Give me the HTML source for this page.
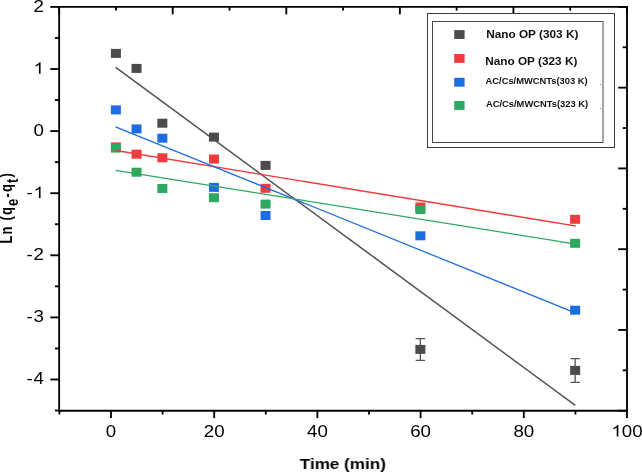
<!DOCTYPE html><html><head><meta charset="utf-8"><style>html,body{margin:0;padding:0;background:#fff;}svg{display:block;will-change:transform;}text{font-family:"Liberation Sans",sans-serif;}</style></head><body>
<svg width="642" height="472" viewBox="0 0 642 472">
<defs><filter id="bl" x="0" y="0" width="100%" height="100%"><feGaussianBlur stdDeviation="0.35"/></filter></defs>
<rect x="0" y="0" width="642" height="472" fill="#fff"/>
<g filter="url(#bl)">
<path d="M420.35 338.6 V360.4 M415.65 338.6 H425.05 M415.65 360.4 H425.05" stroke="#555" stroke-width="1.3" fill="none"/>
<path d="M575.15 358.6 V382.3 M570.45 358.6 H579.85 M570.45 382.3 H579.85" stroke="#555" stroke-width="1.3" fill="none"/>
<rect x="110.91" y="48.90" width="10" height="9" fill="#4b4b4b"/>
<rect x="131.55" y="63.90" width="10" height="9" fill="#4b4b4b"/>
<rect x="157.35" y="118.70" width="10" height="9" fill="#4b4b4b"/>
<rect x="208.95" y="132.60" width="10" height="9" fill="#4b4b4b"/>
<rect x="260.55" y="160.90" width="10" height="9" fill="#4b4b4b"/>
<rect x="415.35" y="344.90" width="10" height="9" fill="#4b4b4b"/>
<rect x="570.15" y="365.90" width="10" height="9" fill="#4b4b4b"/>
<rect x="110.91" y="142.40" width="10" height="9" fill="#ee3b3e"/>
<rect x="131.55" y="149.70" width="10" height="9" fill="#ee3b3e"/>
<rect x="157.35" y="153.30" width="10" height="9" fill="#ee3b3e"/>
<rect x="208.95" y="154.50" width="10" height="9" fill="#ee3b3e"/>
<rect x="260.55" y="183.80" width="10" height="9" fill="#ee3b3e"/>
<rect x="415.35" y="202.50" width="10" height="9" fill="#ee3b3e"/>
<rect x="570.15" y="214.80" width="10" height="9" fill="#ee3b3e"/>
<rect x="110.91" y="105.40" width="10" height="9" fill="#1f6ee0"/>
<rect x="131.55" y="124.40" width="10" height="9" fill="#1f6ee0"/>
<rect x="157.35" y="133.70" width="10" height="9" fill="#1f6ee0"/>
<rect x="208.95" y="182.90" width="10" height="9" fill="#1f6ee0"/>
<rect x="260.55" y="211.00" width="10" height="9" fill="#1f6ee0"/>
<rect x="415.35" y="231.30" width="10" height="9" fill="#1f6ee0"/>
<rect x="570.15" y="305.70" width="10" height="9" fill="#1f6ee0"/>
<rect x="110.91" y="143.60" width="10" height="9" fill="#2da85e"/>
<rect x="131.55" y="167.70" width="10" height="9" fill="#2da85e"/>
<rect x="157.35" y="184.00" width="10" height="9" fill="#2da85e"/>
<rect x="208.95" y="193.20" width="10" height="9" fill="#2da85e"/>
<rect x="260.55" y="199.60" width="10" height="9" fill="#2da85e"/>
<rect x="415.35" y="205.00" width="10" height="9" fill="#2da85e"/>
<rect x="570.15" y="238.80" width="10" height="9" fill="#2da85e"/>
<line x1="115.7" y1="67.3" x2="575.3" y2="405.4" stroke="#505050" stroke-width="1.5"/>
<line x1="116.0" y1="150.5" x2="575.6" y2="226.0" stroke="#ee3b3e" stroke-width="1.3"/>
<line x1="115.5" y1="126.8" x2="575.2" y2="312.8" stroke="#1f6ee0" stroke-width="1.3"/>
<line x1="115.5" y1="170.3" x2="575.0" y2="244.0" stroke="#2da85e" stroke-width="1.3"/>
<g stroke="#000" stroke-width="1.85" fill="none">
<path d="M59.15 6.9 V410.7 H627.0 V6.9 Z"/>
<path d="M59.15 6.90 H50.349999999999994"/>
<path d="M59.15 37.95 H54.949999999999996"/>
<path d="M59.15 69.00 H50.349999999999994"/>
<path d="M59.15 100.05 H54.949999999999996"/>
<path d="M59.15 131.10 H50.349999999999994"/>
<path d="M59.15 162.15 H54.949999999999996"/>
<path d="M59.15 193.20 H50.349999999999994"/>
<path d="M59.15 224.25 H54.949999999999996"/>
<path d="M59.15 255.30 H50.349999999999994"/>
<path d="M59.15 286.35 H54.949999999999996"/>
<path d="M59.15 317.40 H50.349999999999994"/>
<path d="M59.15 348.45 H54.949999999999996"/>
<path d="M59.15 379.50 H50.349999999999994"/>
<path d="M59.15 410.55 H54.949999999999996"/>
<path d="M59.40 410.7 V414.5"/>
<path d="M111.00 410.7 V418.09999999999997"/>
<path d="M162.60 410.7 V414.5"/>
<path d="M214.20 410.7 V418.09999999999997"/>
<path d="M265.80 410.7 V414.5"/>
<path d="M317.40 410.7 V418.09999999999997"/>
<path d="M369.00 410.7 V414.5"/>
<path d="M420.60 410.7 V418.09999999999997"/>
<path d="M472.20 410.7 V414.5"/>
<path d="M523.80 410.7 V418.09999999999997"/>
<path d="M575.40 410.7 V414.5"/>
<path d="M627.00 410.7 V418.09999999999997"/>
<path d="M59.15 6.9 V14.3"/>
<path d="M115.94 6.9 V10.600000000000001"/>
<path d="M172.72 6.9 V14.3"/>
<path d="M229.51 6.9 V10.600000000000001"/>
<path d="M286.29 6.9 V14.3"/>
<path d="M343.07 6.9 V10.600000000000001"/>
<path d="M399.86 6.9 V14.3"/>
<path d="M456.64 6.9 V10.600000000000001"/>
<path d="M513.43 6.9 V14.3"/>
<path d="M570.22 6.9 V10.600000000000001"/>
<path d="M627.00 6.9 V14.3"/>
<path d="M627.0 6.90 H618.2"/>
<path d="M627.0 47.28 H622.7"/>
<path d="M627.0 87.66 H618.2"/>
<path d="M627.0 128.04 H622.7"/>
<path d="M627.0 168.42 H618.2"/>
<path d="M627.0 208.80 H622.7"/>
<path d="M627.0 249.18 H618.2"/>
<path d="M627.0 289.56 H622.7"/>
<path d="M627.0 329.94 H618.2"/>
<path d="M627.0 370.32 H622.7"/>
<path d="M627.0 410.70 H618.2"/>
</g>
<text transform="translate(105.79 436.50) scale(1.17 1)" font-size="16" fill="#000">0</text>
<text transform="translate(203.79 436.50) scale(1.17 1)" font-size="16" fill="#000">2</text>
<text transform="translate(214.20 436.50) scale(1.17 1)" font-size="16" fill="#000">0</text>
<text transform="translate(306.99 436.50) scale(1.17 1)" font-size="16" fill="#000">4</text>
<text transform="translate(317.40 436.50) scale(1.17 1)" font-size="16" fill="#000">0</text>
<text transform="translate(410.19 436.50) scale(1.17 1)" font-size="16" fill="#000">6</text>
<text transform="translate(420.60 436.50) scale(1.17 1)" font-size="16" fill="#000">0</text>
<text transform="translate(513.39 436.50) scale(1.17 1)" font-size="16" fill="#000">8</text>
<text transform="translate(523.80 436.50) scale(1.17 1)" font-size="16" fill="#000">0</text>
<path transform="translate(611.38 436.50) scale(0.00914 -0.00781)" d="M763 0H583V1147Q518 1085 412 1023Q306 961 222 930V1104Q373 1175 486 1276Q599 1377 646 1472H763Z" fill="#000"/>
<text transform="translate(621.79 436.50) scale(1.17 1)" font-size="16" fill="#000">0</text>
<text transform="translate(632.21 436.50) scale(1.17 1)" font-size="16" fill="#000">0</text>
<text transform="translate(33.59 11.60) scale(1.17 1)" font-size="16" fill="#000">2</text>
<path transform="translate(33.59 73.70) scale(0.00914 -0.00781)" d="M763 0H583V1147Q518 1085 412 1023Q306 961 222 930V1104Q373 1175 486 1276Q599 1377 646 1472H763Z" fill="#000"/>
<text transform="translate(33.59 135.80) scale(1.17 1)" font-size="16" fill="#000">0</text>
<text transform="translate(26.55 197.90) scale(1.17 1)" font-size="16" fill="#000">-</text>
<path transform="translate(33.59 197.90) scale(0.00914 -0.00781)" d="M763 0H583V1147Q518 1085 412 1023Q306 961 222 930V1104Q373 1175 486 1276Q599 1377 646 1472H763Z" fill="#000"/>
<text transform="translate(26.55 260.00) scale(1.17 1)" font-size="16" fill="#000">-</text>
<text transform="translate(33.59 260.00) scale(1.17 1)" font-size="16" fill="#000">2</text>
<text transform="translate(26.55 322.10) scale(1.17 1)" font-size="16" fill="#000">-</text>
<text transform="translate(33.59 322.10) scale(1.17 1)" font-size="16" fill="#000">3</text>
<text transform="translate(26.55 384.20) scale(1.17 1)" font-size="16" fill="#000">-</text>
<text transform="translate(33.59 384.20) scale(1.17 1)" font-size="16" fill="#000">4</text>
<text transform="translate(342.8 469.3) scale(1.14 1)" text-anchor="middle" font-size="15" font-weight="bold" fill="#000">Time (min)</text>
<text transform="translate(12.0 243.5) scale(1.22 1) rotate(-90)" font-size="13" letter-spacing="1.15" font-weight="bold" fill="#000">Ln (q<tspan font-size="13" dy="4.6">e</tspan><tspan dy="-4.6">-q</tspan><tspan font-size="13" dy="4.6">t</tspan><tspan dy="-4.6">)</tspan></text>
<rect x="427.5" y="13.5" width="187" height="134" fill="#fff" stroke="#3c3c3c" stroke-width="1"/>
<rect x="432.5" y="21.5" width="170.5" height="121" fill="none" stroke="#4a4a4a" stroke-width="1"/>
<rect x="454.2" y="30.1" width="10.4" height="8.9" fill="#4b4b4b"/>
<text transform="translate(486.2 37.9) scale(1.18 1)" font-size="10" font-weight="bold" fill="#111">Nano OP (303 K)</text>
<rect x="454.2" y="54.0" width="10.4" height="8.9" fill="#ee3b3e"/>
<text transform="translate(485.2 64.5) scale(1.18 1)" font-size="10" font-weight="bold" fill="#111">Nano OP (323 K)</text>
<rect x="454.2" y="77.8" width="10.4" height="8.9" fill="#1f6ee0"/>
<text transform="translate(485.6 84.1) scale(1.1 1)" font-size="8.5" font-weight="bold" fill="#111">AC/Cs/MWCNTs(303 K)</text>
<rect x="454.2" y="101.0" width="10.4" height="8.9" fill="#2da85e"/>
<text transform="translate(486.0 107.2) scale(1.1 1)" font-size="8.5" font-weight="bold" fill="#111">AC/Cs/MWCNTs(323 K)</text>
<rect x="600" y="84" width="1" height="1" fill="#888"/><rect x="600" y="108" width="1" height="1" fill="#888"/>
</g>
</svg></body></html>
